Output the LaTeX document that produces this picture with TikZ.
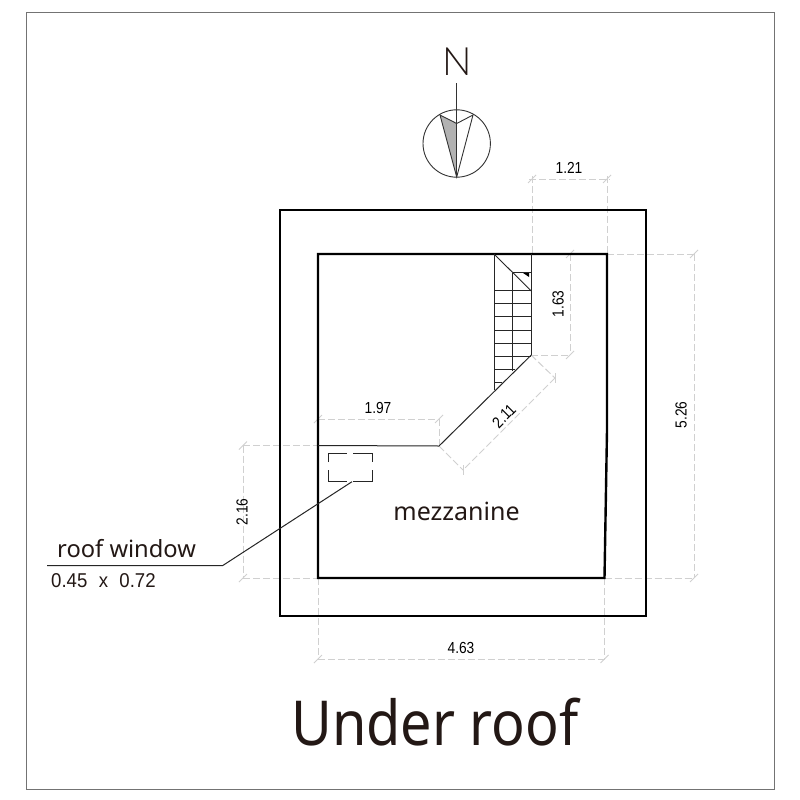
\documentclass[tikz,border=0pt]{standalone}
\usepackage{fontspec}
\setmainfont{Noto Sans}
\newfontfamily\numfont{Liberation Sans}
\definecolor{ink}{HTML}{231815}
\definecolor{dimgrey}{HTML}{D0D0D0}
\newcommand{\dimnum}[1]{\scalebox{.86}[1]{#1}}
\tikzset{
  wall/.style={draw=black,line width=2.4pt,line join=miter},
  thinline/.style={draw=black!85,line width=1pt},
  stairline/.style={draw=black!85,line width=.9pt},
  dimline/.style={draw=dimgrey,line width=1pt,dash pattern=on 7pt off 3pt},
  dimtick/.style={draw=dimgrey,line width=.8pt},
  dimtext/.style={text=black,font=\numfont\fontsize{16}{16}\selectfont,inner sep=0pt},
  labeltext/.style={text=ink,inner sep=0pt},
}
\begin{document}
\begin{tikzpicture}[x=1pt,y=-1pt]
\useasboundingbox (0,0) rectangle (800,800);
\fill[white] (0,0) rectangle (800,800);
\draw[draw=black!55,line width=.9pt] (26.5,12.5) rectangle (774,789);

% dimension lines
\draw[dimline] (532,176) -- (532,254);
\draw[dimline] (607,176) -- (607,254);
\draw[dimline] (529,179) -- (610,179);
\draw[dimline] (531,355) -- (570,355);
\draw[dimline] (570,254) -- (570,355);
\draw[dimline] (607,254) -- (694,254);
\draw[dimline] (694,254) -- (694,578);
\draw[dimline] (604.5,578) -- (694,578);
\draw[dimline] (318,578) -- (318,659);
\draw[dimline] (604.5,578) -- (604.5,659);
\draw[dimline] (318,659) -- (604.5,659);
\draw[dimline] (243,445.5) -- (318,445.5);
\draw[dimline] (243,445.5) -- (243,578);
\draw[dimline] (243,578) -- (318,578);
\draw[dimline] (318,419) -- (439,419);
\draw[dimline] (439,419) -- (439,446);
\draw[dimline] (531,355) -- (555,378);
\draw[dimline] (439,446) -- (463,470);
\draw[dimline] (555,378) -- (463,470);
% dimension ticks
\foreach \px/\py in {532/179,607/179,570/254,570/355,694/254,694/578,318/659,604.5/659,243/445.5,243/578,318/419,439/419}
  \draw[dimtick] (\px-4,\py+4) -- (\px+4,\py-4);
\foreach \px/\py in {555/378,463/470}
  \draw[dimtick] (\px,\py-5) -- (\px,\py+5);

% walls
\draw[wall] (280,210) rectangle (646,616);
\draw[wall] (318,254) -- (607,254) -- (607,430) -- (604.5,578) -- (318,578) -- cycle;

% stairs
\draw[stairline] (494,254) -- (494,390);
\draw[stairline] (512.7,272.7) -- (512.7,371);
\draw[stairline] (531.3,254) -- (531.3,355);
\draw[stairline] (494,254) -- (531.3,291);
\draw[stairline] (512.7,272.7) -- (531.3,272.7);
\foreach \yy/\xe in {290.7/531.3,303.7/531.3,316.7/531.3,330/531.3,343/531.3,356/531,369/515,382/502}
  \draw[stairline] (494,\yy) -- (\xe,\yy);
\fill[black] (523,273) -- (529,273) -- (529,277) -- cycle;
% walls inside
\draw[thinline] (531.3,355) -- (439,446) -- (318,445.5);

% roof window
\draw[thinline] (328,462) -- (328,453.3) -- (347,453.3);
\draw[thinline] (353,453.3) -- (372.7,453.3) -- (372.7,462);
\draw[thinline] (328,470) -- (328,481.7) -- (347,481.7);
\draw[thinline] (353,481.7) -- (372.7,481.7) -- (372.7,470);
\coordinate (leaderA) at (47,565.7);
\coordinate (leaderB) at (222.5,565.7);
\coordinate (leaderC) at (352,481.7);
\draw[thinline] (leaderA) -- (leaderB) -- (leaderC);

% compass
\fill[black!30] (440,115) -- (456.7,123.5) -- (456.7,177) -- cycle;
\draw[draw=black!80,line width=.9pt] (456.7,143.5) circle (33.7);
\draw[draw=black!80,line width=.9pt] (456.7,83) -- (456.7,177);
\draw[draw=black!80,line width=.9pt,line join=miter] (456.7,123.5) -- (440,115) -- (456.7,177) -- (473,115) -- cycle;

% labels
\node[labeltext,font=\fontspec{Lato Light}\fontsize{39}{39}\selectfont] (north) at (457.5,62) {N};
\node[dimtext] (d121) at (569,168) {\dimnum{1.21}};
\node[dimtext,rotate=90] (d163) at (558,304) {\dimnum{1.63}};
\node[dimtext,rotate=90] (d526) at (681,415) {\dimnum{5.26}};
\node[dimtext] (d463) at (461,648) {\dimnum{4.63}};
\node[dimtext] (d197) at (378,408) {\dimnum{1.97}};
\node[dimtext,rotate=90] (d216) at (242,512) {\dimnum{2.16}};
\node[dimtext,rotate=45] (d211) at (504,416) {\dimnum{2.11}};
\node[labeltext,font=\fontsize{25}{25}\selectfont] (mezz) at (456.5,511) {mezzanine};
\node[labeltext,anchor=west,font=\fontsize{23.7}{24}\selectfont] (roofw) at (57,549) {roof window};
\node[labeltext,anchor=west,font=\numfont\fontsize{20}{20}\selectfont] (roofd) at (51,581) {\scalebox{.93}[1]{0.45\,\, x\,\, 0.72}};
\node[labeltext,font=\fontsize{62}{62}\selectfont] (title) at (435,722) {\scalebox{.9}[1]{Under roof}};
\end{tikzpicture}
\end{document}
